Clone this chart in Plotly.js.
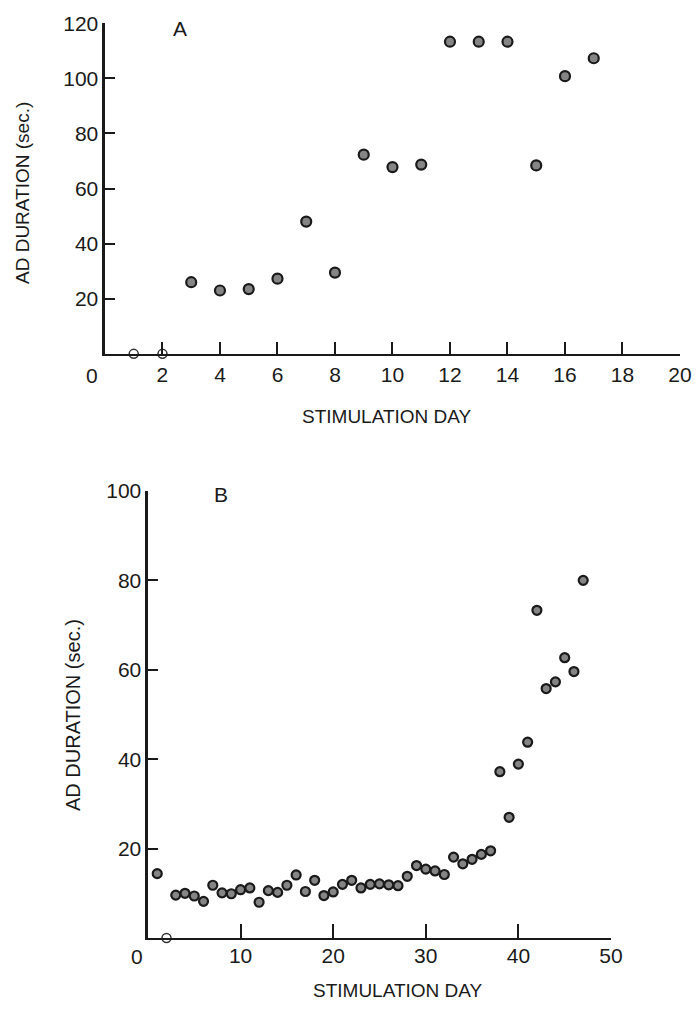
<!DOCTYPE html>
<html>
<head>
<meta charset="utf-8">
<script src="https://cdn.plot.ly/plotly-3.0.1.min.js"></script>
<style>html,body{margin:0;padding:0;background:#fff;}#chart{width:697px;height:1011px;}</style>
</head>
<body>
<div id="chart"></div>
<script>
// Panel A data
const daysA = [3, 4, 5, 6, 7, 8, 9, 10, 11, 12, 13, 14, 15, 16, 17];
const durA  = [26, 23, 23.5, 27.3, 48, 29.5, 72.3, 67.8, 68.7, 113.3, 113.3, 113.3, 68.4, 100.8, 107.3];
const daysAZero = [1, 2];
const durAZero  = [0, 0];

// Panel B data
const daysB = [1, 3, 4, 5, 6, 7, 8, 9, 10, 11, 12, 13, 14, 15, 16, 17, 18, 19, 20,
               21, 22, 23, 24, 25, 26, 27, 28, 29, 30, 31, 32, 33, 34, 35, 36, 37,
               38, 39, 40, 41, 42, 43, 44, 45, 46, 47];
const durB  = [14.4, 9.6, 10.0, 9.4, 8.2, 11.8, 10.1, 9.9, 10.8, 11.2, 8.0, 10.6, 10.2, 11.8, 14.1, 10.4, 12.9, 9.5, 10.3,
               12.0, 12.9, 11.2, 12.0, 12.1, 11.9, 11.7, 13.8, 16.2, 15.4, 15.0, 14.2, 18.1, 16.6, 17.6, 18.7, 19.5,
               37.2, 27.0, 38.9, 43.8, 73.3, 55.8, 57.3, 62.7, 59.6, 80.0];
const daysBZero = [2];
const durBZero  = [0];

// Tick labels
const xTicksA = [2, 4, 6, 8, 10, 12, 14, 16, 18, 20];
const yTicksA = [20, 40, 60, 80, 100, 120];
const xTicksB = [10, 20, 30, 40, 50];
const yTicksB = [20, 40, 60, 80, 100];

const xTitle = "STIMULATION DAY";
const yTitle = "AD DURATION (sec.)";

const FONT = "Liberation Sans, Arial, sans-serif";
const INK = "#1a1a1a";

const filledMarker = (sz) => ({symbol: "circle", size: sz, color: "#858585", line: {color: INK, width: 2.2}});
const openMarker = (sz) => ({symbol: "circle", size: sz, color: "#ffffff", line: {color: "#333", width: 1.5}});

const traces = [
  {x: daysA, y: durA, xaxis: "x", yaxis: "y", mode: "markers", type: "scatter", marker: filledMarker(10), cliponaxis: false},
  {x: daysAZero, y: durAZero, xaxis: "x", yaxis: "y", mode: "markers", type: "scatter", marker: openMarker(9), cliponaxis: false},
  {x: daysB, y: durB, xaxis: "x2", yaxis: "y2", mode: "markers", type: "scatter", marker: filledMarker(9), cliponaxis: false},
  {x: daysBZero, y: durBZero, xaxis: "x2", yaxis: "y2", mode: "markers", type: "scatter", marker: openMarker(9), cliponaxis: false}
];

const axBase = {
  showline: true, linecolor: INK, linewidth: 2,
  showgrid: false, zeroline: false,
  ticks: "inside", tickcolor: INK, tickwidth: 2,
  tickfont: {family: FONT, size: 21, color: INK},
  tickmode: "array", fixedrange: true
};

const layout = {
  width: 697, height: 1011,
  margin: {l: 0, r: 0, t: 0, b: 0},
  paper_bgcolor: "#ffffff", plot_bgcolor: "rgba(0,0,0,0)",
  showlegend: false,
  xaxis: Object.assign({}, axBase, {domain: [0.1506, 0.9756], range: [0, 20], tickvals: xTicksA, ticklen: 12, anchor: "y", ticklabelstandoff: 1}),
  yaxis: Object.assign({}, axBase, {domain: [0.650, 0.977], range: [0, 120], tickvals: yTicksA, ticklen: 10, anchor: "x", linewidth: 2.5, ticklabelstandoff: 0}),
  xaxis2: Object.assign({}, axBase, {domain: [0.2123, 0.8766], range: [0, 50], tickvals: xTicksB, ticklen: 14, anchor: "y2", ticklabelstandoff: -2}),
  yaxis2: Object.assign({}, axBase, {domain: [0.0722, 0.5144], range: [0, 100], tickvals: yTicksB, ticklen: 10, anchor: "x2", linewidth: 2.5, ticklabelstandoff: 0}),
  annotations: [
    {xref: "x", yref: "y", x: 0, y: 0, text: "0", showarrow: false, xanchor: "center", yanchor: "top", xshift: -13, yshift: -8, font: {family: FONT, size: 21, color: INK}},
    {xref: "x2", yref: "y2", x: 0, y: 0, text: "0", showarrow: false, xanchor: "center", yanchor: "top", xshift: -11, yshift: -5, font: {family: FONT, size: 21, color: INK}},
    {xref: "paper", yref: "paper", x: 387/697, y: 1 - 417/1011, text: xTitle, showarrow: false, xanchor: "center", yanchor: "middle", font: {family: FONT, size: 19, color: INK}},
    {xref: "paper", yref: "paper", x: 398/697, y: 1 - 990/1011, text: xTitle, showarrow: false, xanchor: "center", yanchor: "middle", font: {family: FONT, size: 19, color: INK}},
    {xref: "paper", yref: "paper", x: 22/697, y: 1 - 193/1011, text: yTitle, textangle: -90, showarrow: false, xanchor: "center", yanchor: "middle", font: {family: FONT, size: 19, color: INK}},
    {xref: "paper", yref: "paper", x: 73/697, y: 1 - 715/1011, text: yTitle, textangle: -90, showarrow: false, xanchor: "center", yanchor: "middle", font: {family: FONT, size: 20, color: INK}},
    {xref: "paper", yref: "paper", x: 180/697, y: 1 - 28/1011, text: "A", showarrow: false, xanchor: "center", yanchor: "middle", font: {family: FONT, size: 21, color: INK}},
    {xref: "paper", yref: "paper", x: 221/697, y: 1 - 495/1011, text: "B", showarrow: false, xanchor: "center", yanchor: "middle", font: {family: FONT, size: 21, color: INK}}
  ]
};

Plotly.newPlot("chart", traces, layout, {displayModeBar: false, staticPlot: true});
</script>
</body>
</html>
